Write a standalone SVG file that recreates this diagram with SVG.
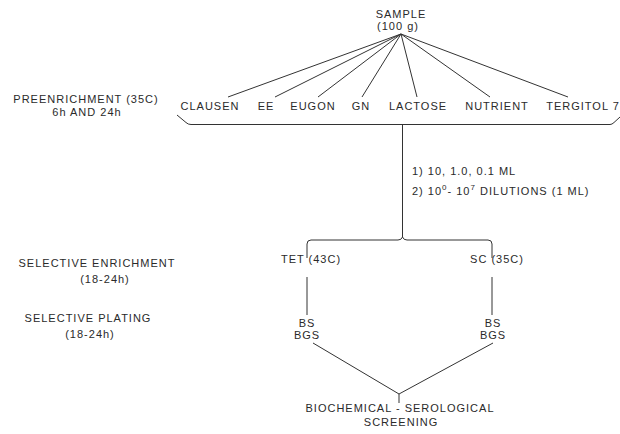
<svg xmlns="http://www.w3.org/2000/svg" width="620" height="434" viewBox="0 0 620 434">
<style>
text{font-family:"Liberation Sans",Arial,sans-serif;font-size:11px;fill:#2a2a2a;letter-spacing:1px}
.m{text-anchor:middle}
.ln{stroke:#333;stroke-width:1;fill:none}
</style>
<rect width="620" height="434" fill="#fff"/>
<g id="sample"><text class="m" x="401" y="18">SAMPLE</text><text class="m" x="398" y="30">(100 g)</text></g>
<g id="lbl-pre"><text class="m" x="86" y="103">PREENRICHMENT (35C)</text><text class="m" x="87" y="116">6h AND 24h</text></g>
<g id="lbl-sel-enr"><text class="m" x="97" y="267">SELECTIVE ENRICHMENT</text><text class="m" x="105" y="283">(18-24h)</text></g>
<g id="lbl-sel-plat"><text class="m" x="88" y="322">SELECTIVE PLATING</text><text class="m" x="90" y="338">(18-24h)</text></g>
<g id="clausen"><text class="m" x="210" y="110">CLAUSEN</text></g>
<g id="ee"><text class="m" x="266" y="110">EE</text></g>
<g id="eugon"><text class="m" x="313" y="110">EUGON</text></g>
<g id="gn"><text class="m" x="361" y="110">GN</text></g>
<g id="lactose"><text class="m" x="418" y="110">LACTOSE</text></g>
<g id="nutrient"><text class="m" x="497" y="110">NUTRIENT</text></g>
<g id="tergitol"><text class="m" x="583" y="110">TERGITOL 7</text></g>
<g id="dilutions"><text x="412" y="175">1) 10, 1.0, 0.1 ML</text><text x="412" y="195">2) 10<tspan dy="-5" font-size="8">0</tspan><tspan dy="5">- 10</tspan><tspan dy="-5" font-size="8">7</tspan><tspan dy="5"> DILUTIONS (1 ML)</tspan></text></g>
<g id="tet"><text class="m" x="311" y="263">TET (43C)</text></g>
<g id="sc"><text class="m" x="497" y="263">SC (35C)</text></g>
<g id="bs-left"><text class="m" x="307" y="327">BS</text><text class="m" x="307" y="339">BGS</text></g>
<g id="bs-right"><text class="m" x="493" y="327">BS</text><text class="m" x="493" y="339">BGS</text></g>
<g id="screening"><text class="m" x="400" y="412">BIOCHEMICAL - SEROLOGICAL</text><text class="m" x="401" y="426">SCREENING</text></g>
<g id="connectors" class="ln">
<path d="M401,34 L228,97 M401,34 L275,97 M401,34 L318,97 M401,34 L362,97 M401,34 L417,97 M401,34 L490,97 M401,34 L568,97"/>
<path d="M177,115 L186,122.5 Q188,124.5 191,124.5 H610 Q612,124.5 614,122.5 L620,117"/>
<path d="M402.5,124.5 V237"/>
<path d="M307,258 V244 Q307,240 311,240 H398 Q401.5,240 402.5,237 Q403.5,240 407,240 H488 Q492,240 492,244 V258"/>
<path d="M307,277 V315 M492,277 V315"/>
<path d="M313,343 L399,394 L493,343 M399,394 V403"/>
</g>
</svg>
